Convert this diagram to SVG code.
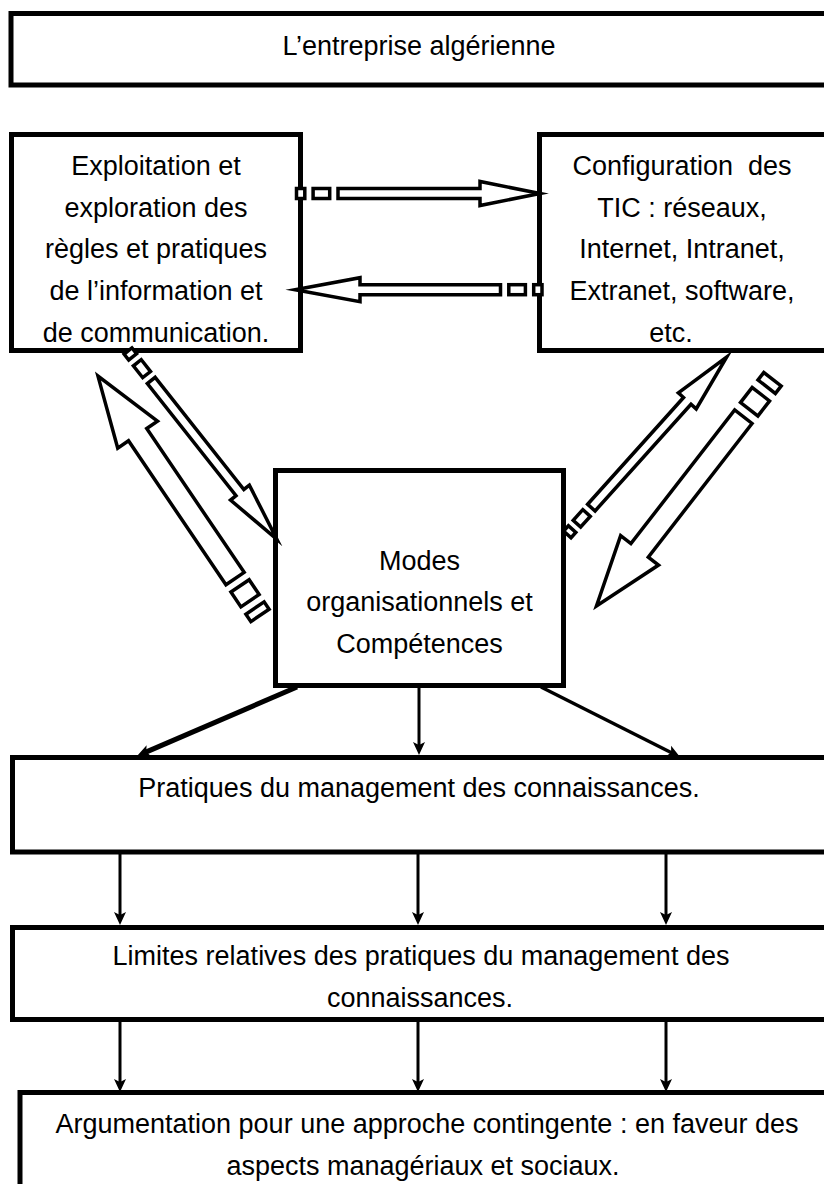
<svg xmlns="http://www.w3.org/2000/svg" width="824" height="1184" viewBox="0 0 824 1184">
  <defs>
    <style>
      .box{fill:#fff;stroke:#000;stroke-width:5}
      .t{font-family:"Liberation Sans",Arial,sans-serif;font-size:27px;text-anchor:middle;fill:#000}
      .blk{fill:#fff;stroke:#000;stroke-width:3.5;stroke-linejoin:miter;stroke-miterlimit:10}
      .ln{fill:none;stroke:#000;stroke-width:3}
    </style>
    <marker id="ah" markerUnits="userSpaceOnUse" markerWidth="14" markerHeight="14" refX="4" refY="6" orient="auto" viewBox="0 0 14 12">
      <path d="M0,0 L13,6 L0,12 L3,6 Z" fill="#000"/>
    </marker>
  </defs>
  <rect width="824" height="1184" fill="#fff"/>

  <g id="n-entreprise">
    <rect class="box" x="11" y="13.5" width="830" height="71.5"/>
    <text class="t" x="419" y="55">L’entreprise algérienne</text>
  </g>

  <g id="n-exploitation">
    <rect class="box" x="11.5" y="134.5" width="289" height="216"/>
    <text class="t" x="156" y="175">Exploitation et</text>
    <text class="t" x="156" y="216.6">exploration des</text>
    <text class="t" x="156" y="258.2">règles et pratiques</text>
    <text class="t" x="156" y="299.8">de l’information et</text>
    <text class="t" x="156" y="342">de communication.</text>
  </g>

  <g id="n-configuration">
    <rect class="box" x="539.5" y="134.5" width="300" height="216"/>
    <text class="t" x="682" y="175" xml:space="preserve">Configuration  des</text>
    <text class="t" x="682" y="216.6">TIC : réseaux,</text>
    <text class="t" x="682" y="258.2">Internet, Intranet,</text>
    <text class="t" x="682" y="299.8">Extranet, software,</text>
    <text class="t" x="671" y="342">etc.</text>
  </g>

  <g id="n-modes">
    <rect class="box" x="275.5" y="470.5" width="288" height="215"/>
    <text class="t" x="419.5" y="570">Modes</text>
    <text class="t" x="419.5" y="611">organisationnels et</text>
    <text class="t" x="419.5" y="652.5">Compétences</text>
  </g>

  <g id="n-pratiques">
    <rect class="box" x="12.5" y="757.5" width="830" height="94.5"/>
    <text class="t" x="419" y="797">Pratiques du management des connaissances.</text>
  </g>

  <g id="n-limites">
    <rect class="box" x="12.5" y="927.5" width="830" height="92"/>
    <text class="t" x="421" y="965">Limites relatives des pratiques du management des</text>
    <text class="t" x="420" y="1006.5">connaissances.</text>
  </g>

  <g id="n-argumentation">
    <rect class="box" x="20" y="1092.5" width="830" height="120"/>
    <text class="t" x="427" y="1133">Argumentation pour une approche contingente : en faveur des</text>
    <text class="t" x="423" y="1175">aspects managériaux et sociaux.</text>
  </g>

  <g id="connectors">
    <!-- striped block arrows -->
    <g transform="translate(296.5,193.5)">
      <rect class="blk" x="0" y="-5" width="8.3" height="10"/>
      <rect class="blk" x="16.6" y="-5" width="16.6" height="10"/>
      <polygon class="blk" points="41.5,-5 183.5,-5 183.5,-12 243.5,0 183.5,12 183.5,5 41.5,5"/>
    </g>
    <g transform="translate(542,289.7) rotate(180)">
      <rect class="blk" x="0" y="-5" width="8.3" height="10"/>
      <rect class="blk" x="16.6" y="-5" width="16.6" height="10"/>
      <polygon class="blk" points="41.5,-5 182,-5 182,-12 247,0 182,12 182,5 41.5,5"/>
    </g>
    <g transform="translate(128,351) rotate(51.67)">
      <rect class="blk" x="0" y="-5" width="7.5" height="10"/>
      <rect class="blk" x="15" y="-5" width="15" height="10"/>
      <polygon class="blk" points="37.5,-5 180.5,-5 180.5,-12 240,0 180.5,12 180.5,5 37.5,5"/>
    </g>
    <g transform="translate(260,615.4) rotate(235.9)">
      <rect class="blk" x="0" y="-11" width="8.9" height="22"/>
      <rect class="blk" x="17.8" y="-11" width="17.8" height="22"/>
      <polygon class="blk" points="44.5,-11 218.3,-11 218.3,-24 289,0 218.3,24 218.3,11 44.5,11"/>
    </g>
    <g transform="translate(567.3,534.4) rotate(-48.06)">
      <rect class="blk" x="0" y="-5" width="7.2" height="10"/>
      <rect class="blk" x="14.4" y="-5" width="14.4" height="10"/>
      <polygon class="blk" points="36,-5 179.5,-5 179.5,-12 238.5,0 179.5,12 179.5,5 36,5"/>
    </g>
    <g transform="translate(772.5,379.2) rotate(127.83)">
      <rect class="blk" x="0" y="-11" width="9.5" height="22"/>
      <rect class="blk" x="19" y="-11" width="19" height="22"/>
      <polygon class="blk" points="47.5,-11 216.7,-11 216.7,-24 287,0 216.7,24 216.7,11 47.5,11"/>
    </g>

    <!-- line arrows -->
    <line class="ln" x1="297" y1="687" x2="145.3" y2="752.4" style="stroke-width:5" marker-end="url(#ah)"/>
    <line class="ln" x1="419" y1="687" x2="419" y2="746" marker-end="url(#ah)"/>
    <line class="ln" x1="541" y1="687" x2="672" y2="753" style="stroke-width:3.5" marker-end="url(#ah)"/>

    <line class="ln" x1="120" y1="854" x2="120" y2="916" marker-end="url(#ah)"/>
    <line class="ln" x1="418" y1="854" x2="418" y2="916" marker-end="url(#ah)"/>
    <line class="ln" x1="666" y1="854" x2="666" y2="916" marker-end="url(#ah)"/>

    <line class="ln" x1="120" y1="1022" x2="120" y2="1083" marker-end="url(#ah)"/>
    <line class="ln" x1="418" y1="1022" x2="418" y2="1083" marker-end="url(#ah)"/>
    <line class="ln" x1="666" y1="1022" x2="666" y2="1083" marker-end="url(#ah)"/>
  </g>
</svg>
